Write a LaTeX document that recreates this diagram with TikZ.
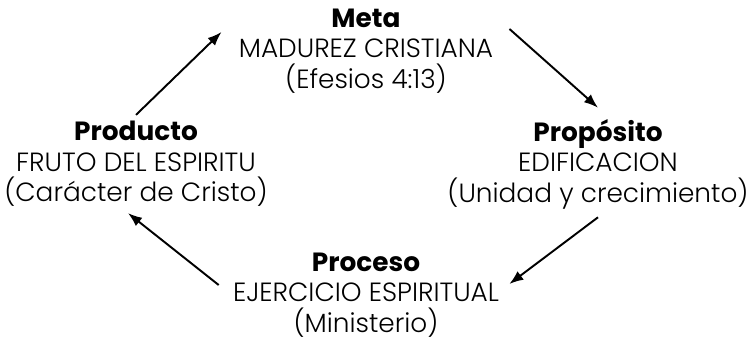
\documentclass[tikz,border=0pt]{standalone}
\usepackage{fontspec}
\setmainfont{Poppins}[UprightFont=* Light, BoldFont=* Bold]
\usepackage{tikz}
\usetikzlibrary{arrows.meta, positioning, calc}

\tikzset{
    bloque/.style={align=center, inner sep=0pt, font=\fontsize{15}{17.4}\selectfont},
    flecha/.style={line width=1.1pt, -{Latex[length=8pt,width=6pt]}}
}

\begin{document}
\begin{tikzpicture}[x=0.02cm, y=-0.02cm]
    \useasboundingbox (0,0) rectangle (750,340);

    % Los cuatro bloques del ciclo
    \node[bloque] (meta) at (366,51) {\textbf{Meta}\\MADUREZ CRISTIANA\\(Efesios 4:13)};
    \node[bloque] (prop) at (598,164) {\textbf{Propósito}\\EDIFICACION\\(Unidad y crecimiento)};
    \node[bloque] (proc) at (366,295) {\textbf{Proceso}\\EJERCICIO ESPIRITUAL\\(Ministerio)};
    \node[bloque] (prod) at (136,164) {\textbf{Producto}\\FRUTO DEL ESPIRITU\\(Carácter de Cristo)};

    % Flechas del ciclo
    \draw[flecha] ($(prod.north)+(0,-6)$) -- ($(meta.west)+(-17,-19)$);
    \draw[flecha] ($(meta.east)+(16,-22)$) -- ($(prop.north)+(0,-11)$);
    \draw[flecha] ($(prop.south)+(0,8)$) -- ($(proc.east)+(10,-11)$);
    \draw[flecha] ($(proc.west)+(-14,-10)$) -- ($(prod.south)+(-8,6)$);
\end{tikzpicture}
\end{document}
